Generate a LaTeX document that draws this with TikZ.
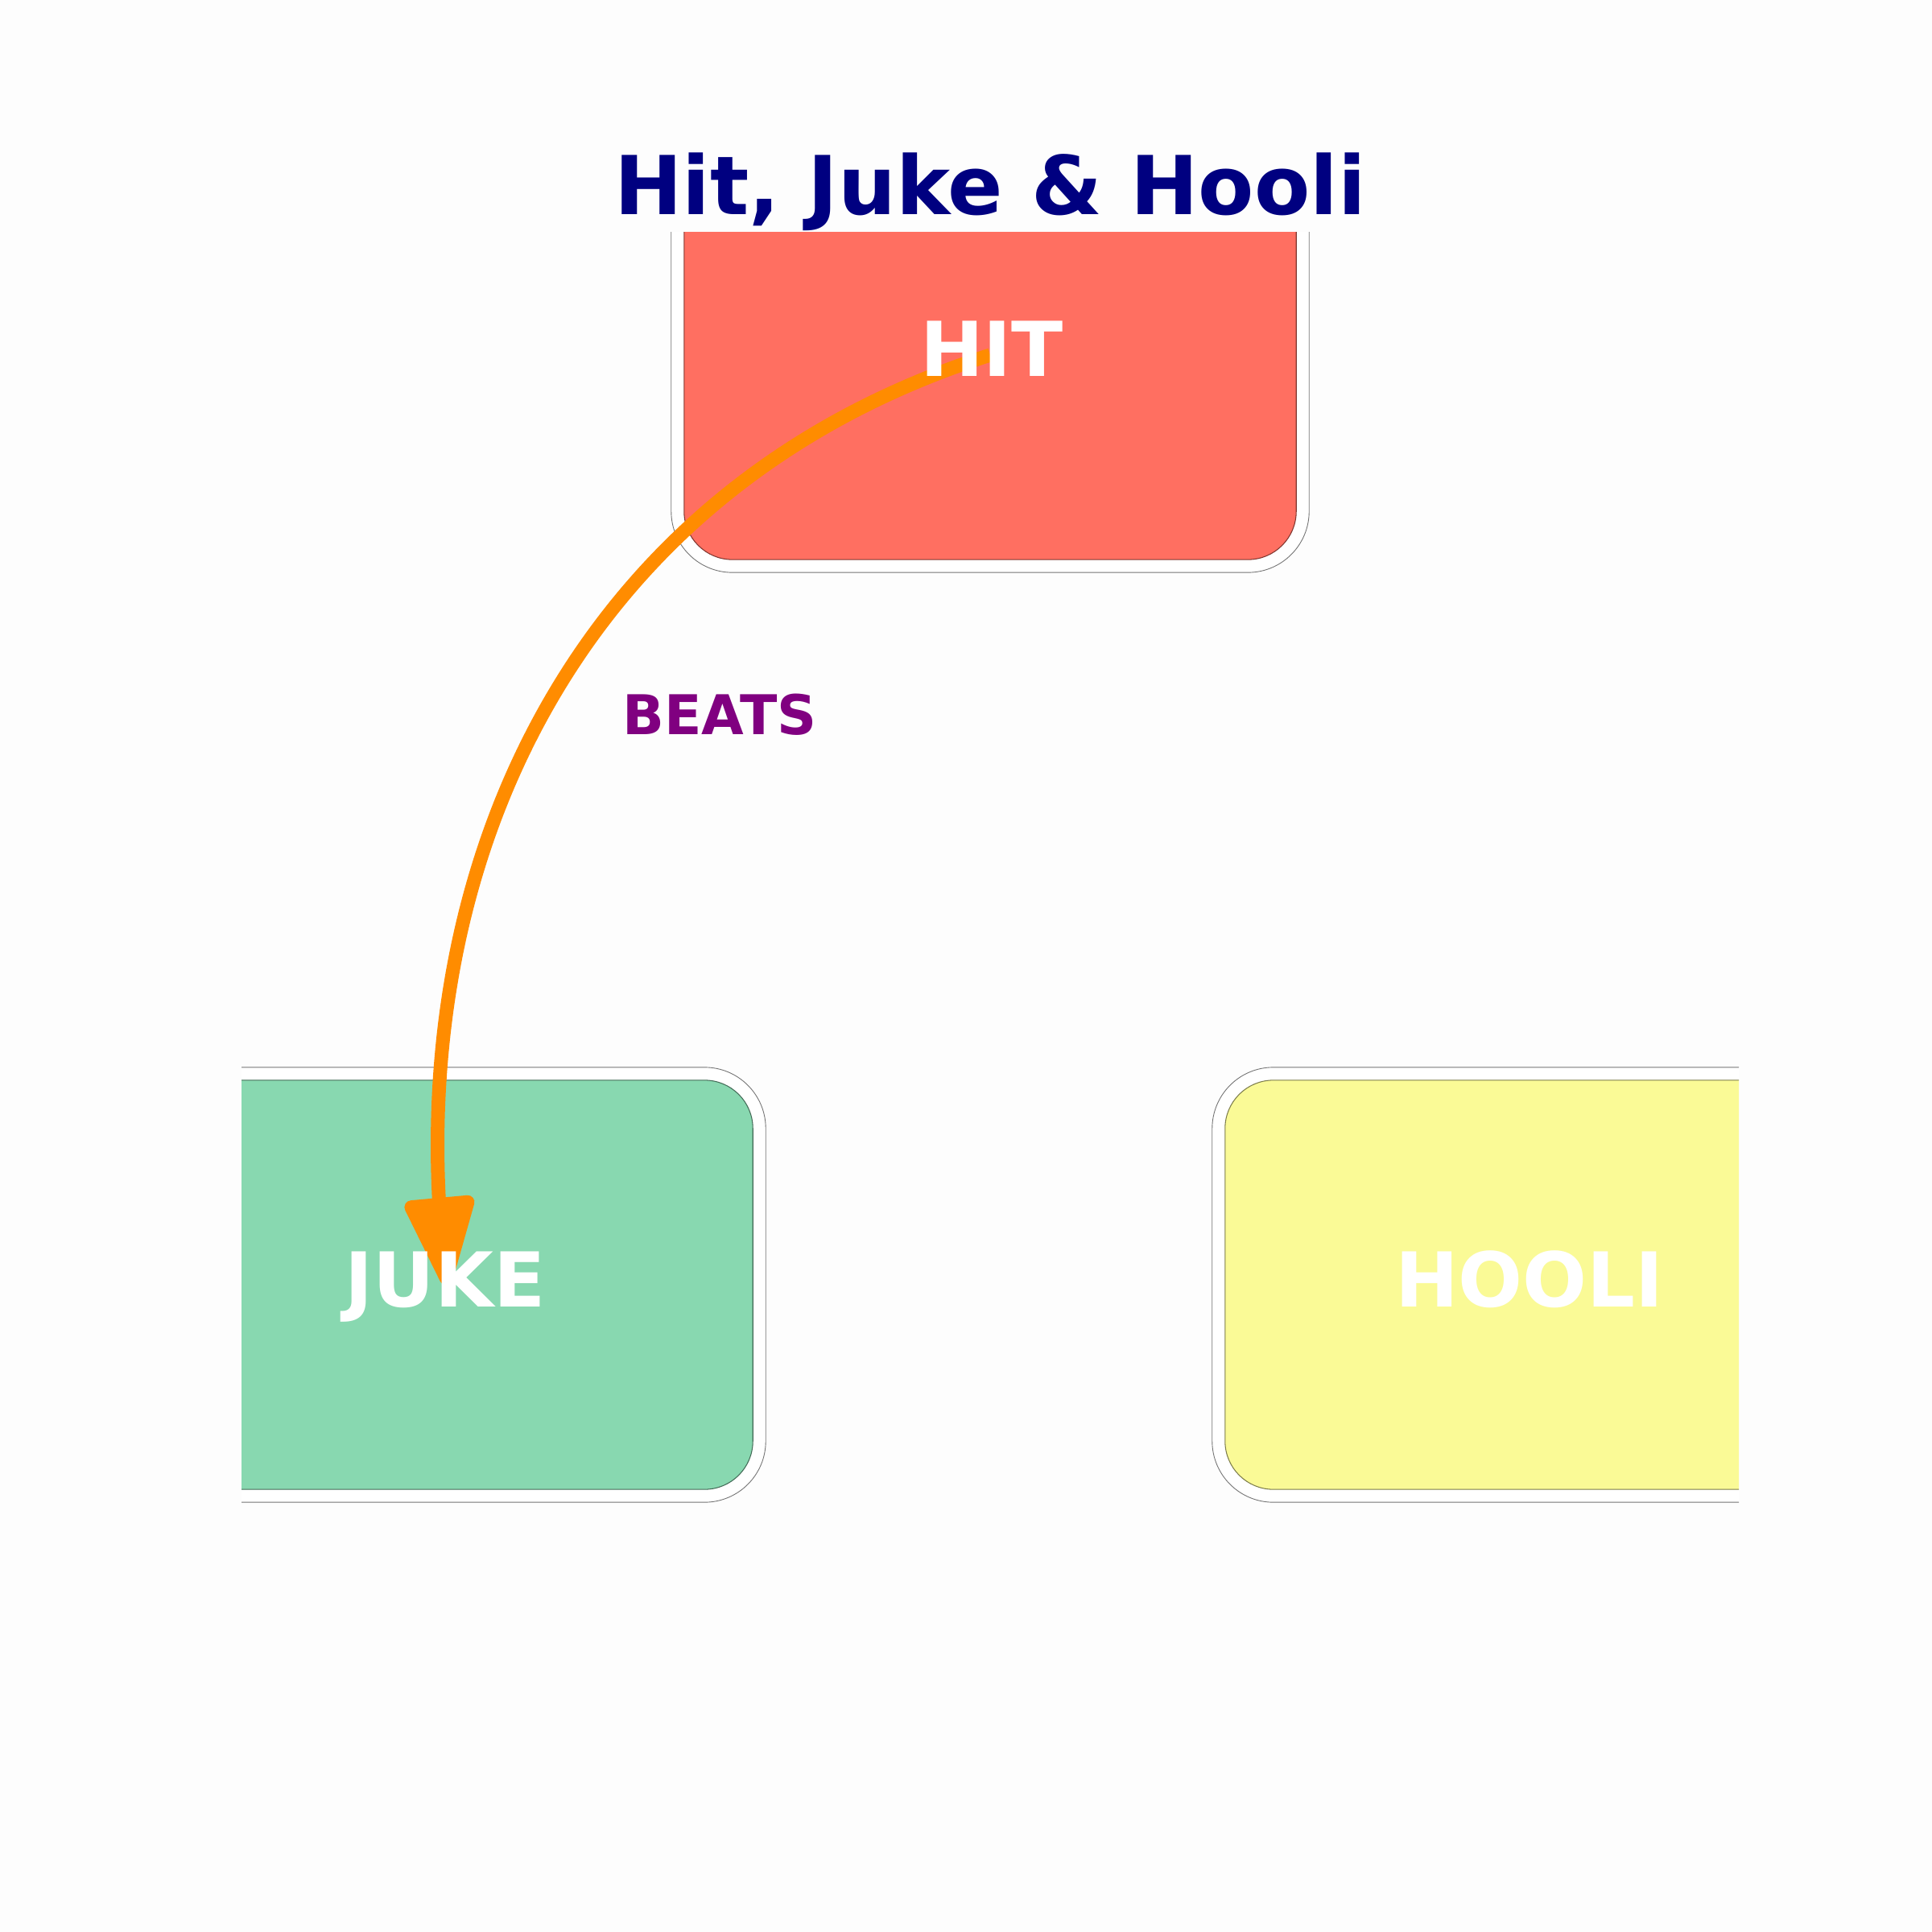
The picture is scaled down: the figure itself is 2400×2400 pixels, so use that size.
\documentclass[tikz,border=0pt]{standalone}
\usepackage{fontspec}
\setmainfont{DejaVu Sans}
\usetikzlibrary{arrows.meta,bending}
\definecolor{hitc}{HTML}{FF6F61}
\definecolor{jukec}{HTML}{88D8B0}
\definecolor{hoolic}{HTML}{FAFA96}
\definecolor{bgc}{HTML}{FDFDFD}
\definecolor{arrowc}{HTML}{FF8C00}
\definecolor{titlec}{HTML}{000080}
\definecolor{labelc}{HTML}{800080}
\begin{document}
\begin{tikzpicture}[x=0.01cm, y=-0.01cm,
  halo/.style={draw=black!55, line width=0.25pt, fill=white, rounded corners=0.76cm,
    minimum width=7.92cm, minimum height=5.40cm, inner sep=0pt},
  cardbox/.style={draw=#1!50!black, line width=0.3pt, fill=#1, rounded corners=0.6cm,
    minimum width=7.60cm, minimum height=5.08cm, inner sep=0pt},
  cardtext/.style={text=white, font=\bfseries\fontsize{26.75}{30}\selectfont, anchor=base, inner sep=0pt},
  link/.style={draw=arrowc, line width=0.17cm, -{Triangle[length=1.25cm, width=0.90cm, round, flex]}},
  linklabel/.style={text=labelc, font=\bfseries\fontsize{19.35}{22}\selectfont, anchor=base, inner sep=0pt},
  titletext/.style={text=titlec, font=\bfseries\fontsize{28.7}{32}\selectfont, anchor=base, inner sep=0pt}
]
\fill[bgc] (0,0) rectangle (2400,2400);
\useasboundingbox (0,0) rectangle (2400,2400);

\begin{scope}
  \clip (300,288) rectangle (2160,2112);
  \node[halo] (hithalo) at (1230,441) {};
  \node[cardbox=hitc] (hit) at (1230,441) {};
  \node[halo] (jukehalo) at (555,1596) {};
  \node[cardbox=jukec] (juke) at (555,1596) {};
  \node[halo] (hoolihalo) at (1902,1596) {};
  \node[cardbox=hoolic] (hooli) at (1902,1596) {};

  \coordinate (c1) at (700,610);
  \coordinate (c2) at (490,1100);
  \draw[link] (hit.center) .. controls (c1) and (c2) .. (juke.center);

  \node[cardtext] (hittext) at (1232,467) {HIT};
  \node[cardtext] (juketext) at (553,1623) {JUKE};
  \node[cardtext] (hoolitext) at (1900,1623) {HOOLI};
\end{scope}

\node[linklabel] (beats) at (894,912) {BEATS};
\node[titletext] (title) at (1230,267) {Hit, Juke \& Hooli};
\end{tikzpicture}
\end{document}
